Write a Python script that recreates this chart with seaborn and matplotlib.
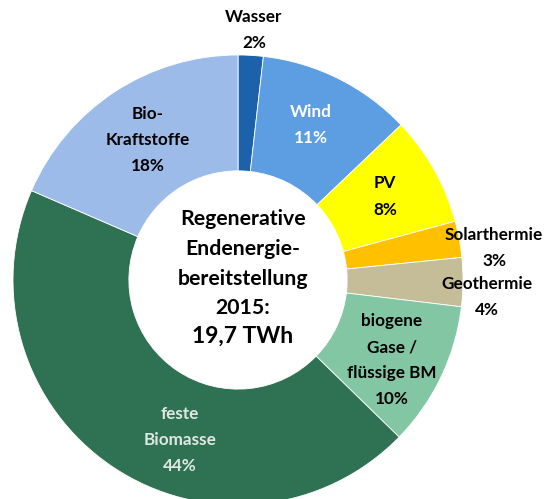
import matplotlib
matplotlib.use("Agg")
import matplotlib.pyplot as plt
import seaborn as sns

# shares read from the ring (clockwise from the top), labels as printed
categories = ["Wasser", "Wind", "PV", "Solarthermie", "Geothermie",
              "biogene\nGase /\nflüssige BM", "feste\nBiomasse", "Bio-\nKraftstoffe"]
shares = [1.8, 11.1, 7.9, 2.6, 3.5, 10.4, 44.2, 18.5]
pct_labels = ["2%", "11%", "8%", "3%", "4%", "10%", "44%", "18%"]
colors = ["#1c62ab", "#5d9de2", "#ffff00", "#ffc000", "#c4bd97",
          "#82c6a4", "#2f7153", "#9dbbe9"]
center_lines = ["Regenerative", "Endenergie-", "bereitstellung", "2015:"]
center_total = "19,7 TWh"

# label placement (data coords, ring radius = 1)
label_pos = [(0.071, 1.111), (0.324, 0.687), (0.653, 0.371), (1.138, 0.142),
             (1.107, -0.076), (0.684, -0.356), (-0.258, -0.711), (-0.40, 0.622)]
label_colors = ["black", "white", "black", "black", "black",
                "black", "#dfe8e3", "black"]

sns.set_style("white")
plt.rcParams["font.family"] = ["Lato", "DejaVu Sans"]

fig = plt.figure(figsize=(5.51, 4.99), dpi=100)
ax = fig.add_axes([0.0236, -0.012, 0.8167, 0.9018])

ax.pie(shares, colors=colors, startangle=90, counterclock=False, radius=1,
       wedgeprops=dict(width=0.515, edgecolor="white", linewidth=0.6))
ax.set_xlim(-1, 1)
ax.set_ylim(-1, 1)
ax.set_aspect("equal")
ax.axis("off")

for cat, pct, (x, y), c in zip(categories, pct_labels, label_pos, label_colors):
    ax.text(x, y, f"{cat}\n{pct}", ha="center", va="center", fontsize=12.3,
            fontweight="bold", linespacing=1.78, color=c)

ax.text(0.022, 0.072, "\n".join(center_lines), ha="center", va="center",
        fontsize=15.3, fontweight="bold", linespacing=1.6, color="black")
ax.text(0.022, -0.25, center_total, ha="center", va="center",
        fontsize=16.5, fontweight="bold", color="black")

fig.savefig("out.png", dpi=100)
